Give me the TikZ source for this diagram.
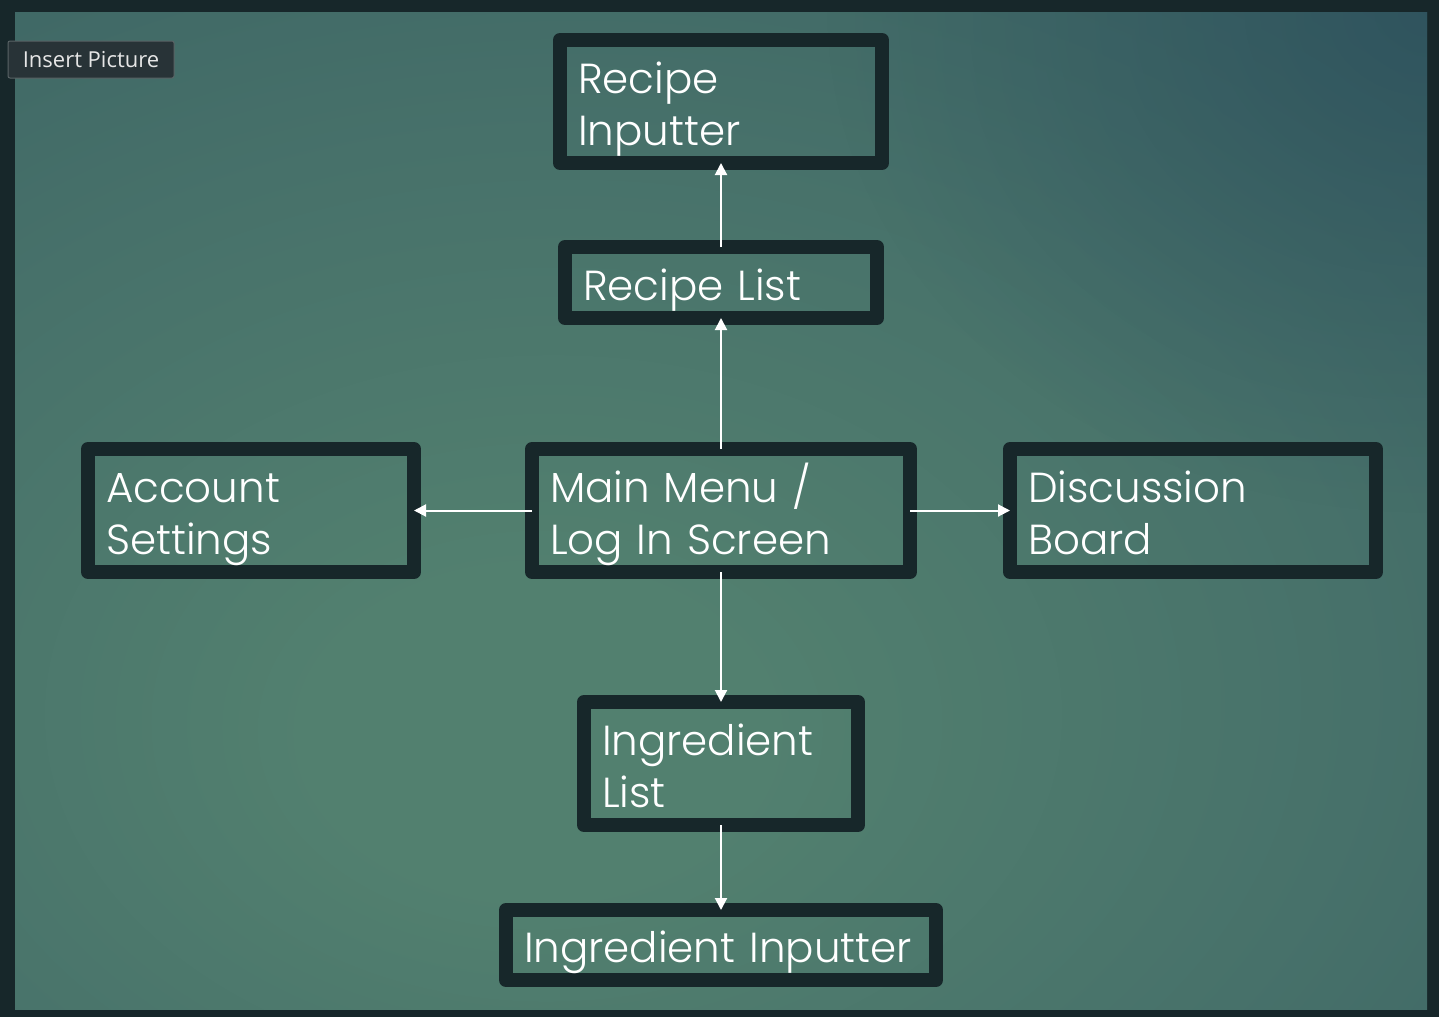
\documentclass[tikz,border=0pt]{standalone}
\usepackage{fontspec}
\setmainfont{Poppins}[UprightFont={* Light}]
\newfontfamily\tipfont{Open Sans}
\usetikzlibrary{arrows.meta,fadings}
\hyphenpenalty=10000
\exhyphenpenalty=10000
\definecolor{frame}{HTML}{17272A}
\definecolor{bgc}{HTML}{52806F}
\definecolor{bga}{HTML}{47716A}
\definecolor{bgm}{HTML}{375E61}
\definecolor{bgo}{HTML}{2D5159}
\definecolor{bgtr}{HTML}{27495A}
\definecolor{tipfill}{HTML}{283337}
\definecolor{tipborder}{HTML}{5A6466}
\definecolor{tiptext}{HTML}{E6E6E6}
\pgfdeclareradialshading{bgshade}{\pgfpoint{-7bp}{-12bp}}{color(0bp)=(bgc); color(8bp)=(bgc); color(28bp)=(bga); color(52bp)=(bgm); color(78bp)=(bgo); color(120bp)=(bgo)}
\tikzfading[name=cornerfade, inner color=transparent!40, outer color=transparent!100]
\tikzset{
  box/.style={draw=frame, line width=14pt, line join=round, outer sep=0pt, text=white,
    align=left, inner xsep=18pt, inner ysep=0pt,
    font={\fontsize{42}{52}\selectfont}},
  twoline/.style={box, minimum height=123pt, text height=44pt, text depth=61pt},
  oneline/.style={box, text height=45pt, text depth=10pt},
  link/.style={draw=white, line width=2pt, -{Triangle[length=12pt,width=12pt]}}
}
\begin{document}
\begin{tikzpicture}[x=1pt,y=-1pt]
\useasboundingbox (0,0) rectangle (1439,1017);
\fill[frame] (0,0) rectangle (1439,1017);
\shade[shading=bgshade] (15,12) rectangle (1427,1009);
\begin{scope}
  \clip (15,12) rectangle (1427,1009);
  \fill[bgtr, path fading=cornerfade, fit fading=true] (827,-488) rectangle (2027,512);
\end{scope}

\node[twoline, text width=286pt] (ri) at (721,101.5) {Recipe\\Inputter};
\node[oneline, text width=276pt, minimum height=71pt] (rl) at (721,282.5) {Recipe~List};
\node[twoline, text width=342pt] (mm) at (721,510.5) {Main~Menu~/\\Log~In~Screen};
\node[twoline, text width=290pt] (as) at (251,510.5) {Account\\Settings};
\node[twoline, text width=330pt] (db) at (1193,510.5) {Discussion\\Board};
\node[twoline, text width=238pt] (il) at (721,763.5) {Ingredient\\List};
\node[oneline, text width=394pt, minimum height=70pt] (ii) at (721,945) {Ingredient~Inputter};

\draw[link] (mm.north) -- (rl.south);
\draw[link] (rl.north) -- (ri.south);
\draw[link] (mm.west) -- (as.east);
\draw[link] (mm.east) -- (db.west);
\draw[link] (mm.south) -- (il.north);
\draw[link] (il.south) -- (ii.north);

\node[draw=tipborder, fill=tipfill, rounded corners=2pt, line width=1pt, text=tiptext,
  font=\tipfont\fontsize{22}{26}\selectfont, minimum width=166pt, minimum height=37pt,
  inner sep=0pt] (tip) at (91,59.5) {Insert Picture};
\end{tikzpicture}
\end{document}
